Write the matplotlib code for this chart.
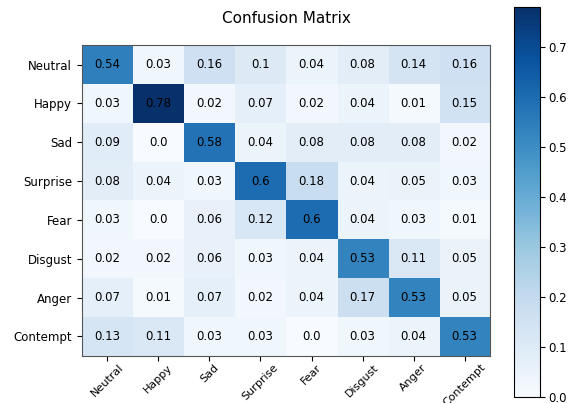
import matplotlib
matplotlib.use('Agg')
import matplotlib.pyplot as plt
import numpy as np

labels = ['Neutral', 'Happy', 'Sad', 'Surprise', 'Fear', 'Disgust', 'Anger', 'Contempt']
neutral = [0.54, 0.03, 0.16, 0.1, 0.04, 0.08, 0.14, 0.16]
happy = [0.03, 0.78, 0.02, 0.07, 0.02, 0.04, 0.01, 0.15]
sad = [0.09, 0.0, 0.58, 0.04, 0.08, 0.08, 0.08, 0.02]
surprise = [0.08, 0.04, 0.03, 0.6, 0.18, 0.04, 0.05, 0.03]
fear = [0.03, 0.0, 0.06, 0.12, 0.6, 0.04, 0.03, 0.01]
disgust = [0.02, 0.02, 0.06, 0.03, 0.04, 0.53, 0.11, 0.05]
anger = [0.07, 0.01, 0.07, 0.02, 0.04, 0.17, 0.53, 0.05]
contempt = [0.13, 0.11, 0.03, 0.03, 0.0, 0.03, 0.04, 0.53]

cm = np.array([neutral, happy, sad, surprise, fear, disgust, anger, contempt])

fig = plt.figure(figsize=(5.68, 4.03), dpi=100)
ax = fig.add_axes([0.144, 0.117, 0.719, 0.771])
cax = fig.add_axes([0.905, 0.015, 0.046, 0.968])

im = ax.imshow(cm, cmap='Blues', aspect='auto', vmin=0, vmax=cm.max())
ax.set_title('Confusion Matrix', fontsize=11, pad=16)
ax.set_xticks(range(len(labels)))
ax.set_yticks(range(len(labels)))
ax.set_xticklabels(labels, rotation=45, fontsize=8)
ax.set_yticklabels(labels, fontsize=8.5)
ax.tick_params(axis='x', pad=1)
for s in ax.spines.values():
    s.set_color('#555555')

for i in range(cm.shape[0]):
    for j in range(cm.shape[1]):
        ax.text(j, i, str(cm[i, j]), ha='center', va='center', fontsize=8.5, color='black')

cb = fig.colorbar(im, cax=cax)
cb.ax.tick_params(labelsize=8.5, pad=2)

fig.savefig('out.png', dpi=100)
